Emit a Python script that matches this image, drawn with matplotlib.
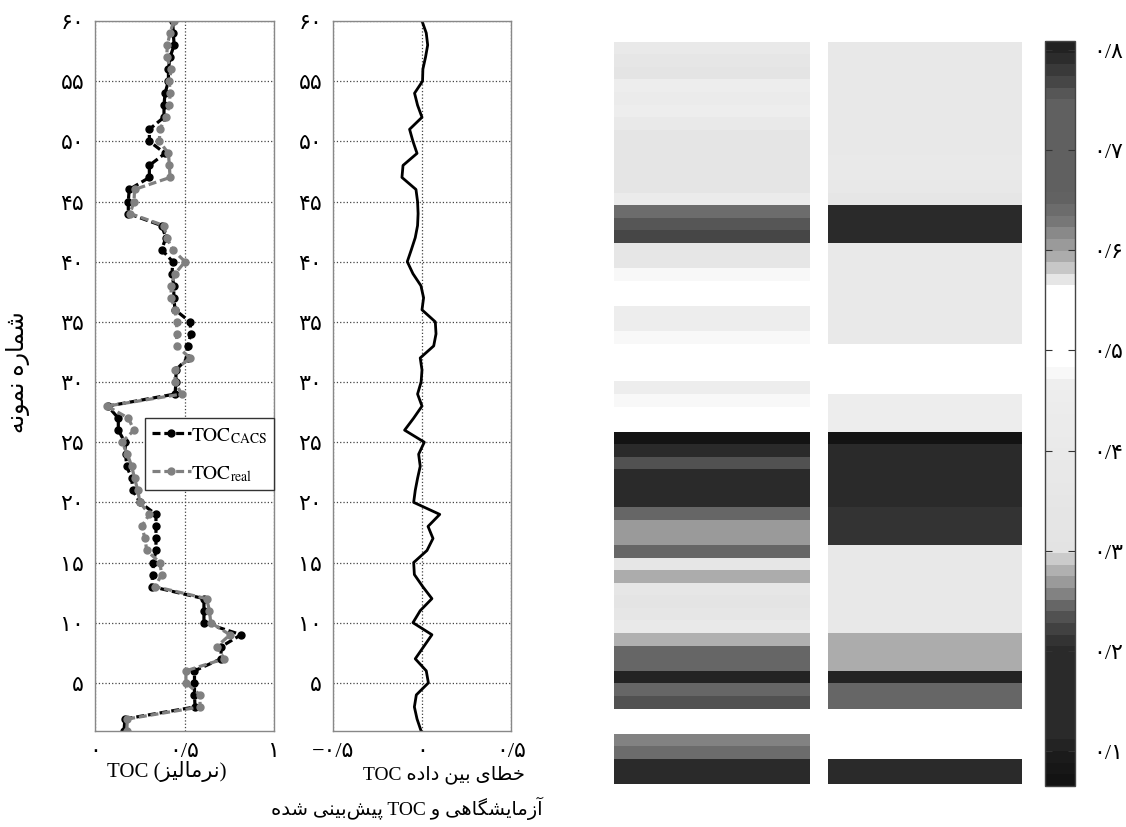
import numpy as np
import matplotlib
matplotlib.use('Agg')
from matplotlib import pyplot as plt
from matplotlib.colors import ListedColormap, Normalize

plt.rcParams['font.family'] = ['Liberation Serif', 'DejaVu Sans']
plt.rcParams['mathtext.fontset'] = 'stix'

# Sample numbers and TOC values (normalized)
samples = list(range(1, 61))
toc_cacs = [0.161, 0.166, 0.559, 0.556, 0.556, 0.556, 0.705, 0.705, 0.817, 0.609,
            0.609, 0.609, 0.316, 0.322, 0.326, 0.34, 0.34, 0.34, 0.34, 0.25,
            0.21, 0.204, 0.176, 0.17, 0.166, 0.129, 0.129, 0.07, 0.447, 0.452,
            0.452, 0.518, 0.518, 0.536, 0.531, 0.447, 0.44, 0.44, 0.43, 0.434,
            0.372, 0.396, 0.372, 0.185, 0.185, 0.19, 0.303, 0.303, 0.391, 0.303,
            0.303, 0.385, 0.385, 0.391, 0.41, 0.41, 0.419, 0.442, 0.437, 0.434]
toc_real = [0.176, 0.18, 0.587, 0.587, 0.508, 0.508, 0.723, 0.68, 0.755, 0.647,
            0.64, 0.624, 0.335, 0.372, 0.362, 0.288, 0.279, 0.26, 0.303, 0.25,
            0.238, 0.22, 0.204, 0.18, 0.15, 0.217, 0.185, 0.066, 0.484, 0.447,
            0.447, 0.531, 0.456, 0.456, 0.456, 0.447, 0.425, 0.425, 0.447, 0.503,
            0.434, 0.40, 0.385, 0.195, 0.217, 0.22, 0.419, 0.415, 0.41, 0.359,
            0.362, 0.396, 0.415, 0.419, 0.415, 0.425, 0.40, 0.404, 0.419, 0.44]
toc_error = [-0.005, -0.028, -0.043, -0.032, 0.036, 0.024, -0.038, 0.009, 0.056, -0.051,
             -0.01, 0.056, 0.004, -0.043, -0.047, 0.028, 0.062, 0.034, 0.1, -0.047,
             -0.038, -0.025, -0.01, -0.019, 0.013, -0.098, -0.047, 0.0, -0.025, -0.005,
             0.0, -0.01, 0.066, 0.079, 0.075, 0.0, 0.009, -0.006, -0.051, -0.083,
             -0.06, -0.038, -0.025, -0.022, -0.025, -0.034, -0.113, -0.107, -0.028, -0.051,
             -0.07, 0.0, -0.025, -0.042, 0.003, 0.005, 0.02, 0.032, 0.024, 0.0]

# cell values of the two columns of the map (sample 1 at bottom)
cells_left = [0.15, 0.15, 0.64, 0.255, 0.52, 0.52, 0.23, 0.245, 0.105, 0.245,
              0.245, 0.28, 0.40, 0.35, 0.32, 0.35, 0.595, 0.35, 0.245, 0.268,
              0.268, 0.245, 0.15, 0.15, 0.15, 0.23, 0.15, 0.07, 0.52, 0.52,
              0.48, 0.45, 0.52, 0.52, 0.52, 0.48, 0.45, 0.45, 0.52, 0.52,
              0.475, 0.35, 0.35, 0.77, 0.76, 0.645, 0.42, 0.33, 0.33, 0.33,
              0.33, 0.33, 0.40, 0.45, 0.42, 0.46, 0.32, 0.35, 0.40]
cells_right = [0.15, 0.15, 0.52, 0.52, 0.52, 0.52, 0.245, 0.245, 0.105, 0.595,
               0.595, 0.595, 0.38, 0.38, 0.38, 0.38, 0.38, 0.38, 0.38, 0.21,
               0.21, 0.21, 0.15, 0.15, 0.15, 0.15, 0.15, 0.07, 0.45, 0.45,
               0.45, 0.52, 0.52, 0.52, 0.52, 0.40, 0.40, 0.40, 0.40, 0.40,
               0.40, 0.40, 0.40, 0.20, 0.20, 0.20, 0.35, 0.38, 0.40, 0.40,
               0.38, 0.38, 0.38, 0.38, 0.38, 0.38, 0.38, 0.38, 0.38]

y_ticks = [5, 10, 15, 20, 25, 30, 35, 40, 45, 50, 55, 60]
toc_ticks = [0, 0.5, 1]
err_ticks = [-0.5, 0, 0.5]
cbar_ticks = [0.1, 0.2, 0.3, 0.4, 0.5, 0.6, 0.7, 0.8]


def fa_num(v):
    # Persian digits, "/" as decimal sign
    s = ('%g' % v).replace('-', '\u2212')
    s = s.replace('0.', '0/') if '.' in s else s
    return s.translate(str.maketrans('0123456789', '۰۱۲۳۴۵۶۷۸۹'))


# contextual forms: isolated, final, initial, medial
FORMS = {
    'ا': ('\uFE8D', '\uFE8E', None, None),
    'آ': ('\uFE81', '\uFE82', None, None),
    'ب': ('\uFE8F', '\uFE90', '\uFE91', '\uFE92'),
    'پ': ('\uFB56', '\uFB57', '\uFB58', '\uFB59'),
    'خ': ('\uFEA5', '\uFEA6', '\uFEA7', '\uFEA8'),
    'د': ('\uFEA9', '\uFEAA', None, None),
    'ر': ('\uFEAD', '\uFEAE', None, None),
    'ز': ('\uFEAF', '\uFEB0', None, None),
    'ش': ('\uFEB5', '\uFEB6', '\uFEB7', '\uFEB8'),
    'ط': ('\uFEC1', '\uFEC2', '\uFEC3', '\uFEC4'),
    'ل': ('\uFEDD', '\uFEDE', '\uFEDF', '\uFEE0'),
    'م': ('\uFEE1', '\uFEE2', '\uFEE3', '\uFEE4'),
    'ن': ('\uFEE5', '\uFEE6', '\uFEE7', '\uFEE8'),
    'ه': ('\uFEE9', '\uFEEA', '\uFEEB', '\uFEEC'),
    'و': ('\uFEED', '\uFEEE', None, None),
    'ی': ('\uFBFC', '\uFBFD', '\uFBFE', '\uFBFF'),
    'گ': ('\uFB92', '\uFB93', '\uFB94', '\uFB95'),
}


def fa(text):
    # shape Persian letters and put them in visual (left-to-right) order
    out = []
    for i, ch in enumerate(text):
        if ch not in FORMS:
            if ch != '\u200c':
                out.append(ch)
            continue
        prev = text[i - 1] if i > 0 else ''
        nxt = text[i + 1] if i + 1 < len(text) else ''
        jp = prev in FORMS and FORMS[prev][2] is not None
        jn = FORMS[ch][2] is not None and nxt in FORMS
        iso, fin, ini, med = FORMS[ch]
        if jp and jn:
            out.append(med)
        elif jp:
            out.append(fin)
        elif jn:
            out.append(ini)
        else:
            out.append(iso)
    return ''.join(reversed(out))


# grey colormap (64 levels) as in the colour bar
vmin, vmax = 0.065, 0.809
anchor_v = [0.065, 0.092, 0.105, 0.115, 0.200, 0.210, 0.221, 0.233, 0.245, 0.256, 0.268,
            0.280, 0.292, 0.302, 0.470, 0.478, 0.488, 0.565, 0.572, 0.583, 0.595, 0.606,
            0.618, 0.629, 0.642, 0.655, 0.745, 0.758, 0.770, 0.781, 0.793, 0.809]
anchor_g = [17, 26, 34, 42, 42, 51, 64, 80, 102, 128, 153,
            176, 204, 227, 238, 248, 255, 255, 224, 197, 170, 153,
            136, 119, 106, 96, 96, 85, 68, 56, 42, 30]
edges = np.linspace(vmin, vmax, 65)
centers = (edges[:-1] + edges[1:]) / 2
g = np.interp(centers, anchor_v, anchor_g) / 255.0
cmap = ListedColormap(np.column_stack([g, g, g]))
norm = Normalize(vmin=vmin, vmax=vmax)

W, H = 1126, 828
fig = plt.figure(figsize=(W / 100, H / 100), dpi=100)

ax1 = fig.add_axes([95.3 / W, 96 / H, 178.4 / W, 710 / H])
ax2 = fig.add_axes([333.3 / W, 96 / H, 177.4 / W, 710 / H])
ax3 = fig.add_axes([614 / W, 43 / H, 408 / W, 742.3 / H])
cax = fig.add_axes([1045 / W, 41 / H, 30 / W, 745 / H])

# Left: TOC curves
ax1.plot(toc_cacs, samples, color='black', lw=2.3, ls=(0, (2.5, 1.2)), marker='.', ms=10,
         label=r'$\mathrm{TOC_{CACS}}$')
ax1.plot(toc_real, samples, color='#808080', lw=2.3, ls=(0, (2.5, 1.2)), marker='.', ms=10,
         label=r'$\mathrm{TOC_{real}}$')
ax1.set_xlim(0, 1)
ax1.set_xticks(toc_ticks)
ax1.set_xticklabels([fa_num(v) for v in toc_ticks])
leg = ax1.legend(loc='lower right', bbox_to_anchor=(1.0, 0.34), fontsize=14, fancybox=False,
                 handlelength=2.0, handletextpad=0.0, borderpad=0.35, labelspacing=0.95,
                 borderaxespad=0, framealpha=1)
leg.get_frame().set_edgecolor('#333333')
leg.get_frame().set_linewidth(1.0)

# Middle: error
ax2.plot(toc_error, samples, color='black', lw=2)
ax2.set_xlim(-0.5, 0.5)
ax2.set_xticks(err_ticks)
ax2.set_xticklabels([fa_num(v) for v in err_ticks])

for ax in (ax1, ax2):
    ax.set_ylim(1, 60)
    ax.set_yticks(y_ticks)
    ax.set_yticklabels([fa_num(v) for v in y_ticks])
    ax.grid(True, ls=':', color='#444444', lw=0.9)
    ax.tick_params(length=0, labelsize=16, pad=8)
    for sp in ax.spines.values():
        sp.set_color('#888888')
        sp.set_linewidth(1.0)

# Right: cell map
mesh = ax3.pcolormesh([0, 1], samples, np.array(cells_left)[:, None], cmap=cmap, norm=norm)
ax3.pcolormesh([1.092, 2.082], samples, np.array(cells_right)[:, None], cmap=cmap, norm=norm)
ax3.set_xlim(0, 2.082)
ax3.set_ylim(1, 60)
ax3.set_axis_off()

cb = fig.colorbar(mesh, cax=cax, ticks=cbar_ticks)
cb.ax.set_yticklabels([fa_num(v) for v in cbar_ticks])
cb.outline.set_edgecolor('#444444')
cb.outline.set_linewidth(1.0)
cax.tick_params(axis='y', direction='in', length=5, left=True, right=True, color='#333333',
                labelsize=16, pad=13)

# Labels
fig.text(18 / W, 1 - 372 / H, fa('شماره نمونه'), rotation=90, ha='center', va='center', fontsize=17)
fig.text(167 / W, 1 - 772 / H, 'TOC (' + fa('نرمالیز') + ')', ha='center', va='center', fontsize=15)
fig.text(444 / W, 1 - 775 / H, 'TOC ' + fa('خطای بین داده'), ha='center', va='center', fontsize=14)
fig.text(407 / W, 1 - 808 / H, fa('پیش\u200cبینی شده') + ' TOC ' + fa('آزمایشگاهی و'),
         ha='center', va='center', fontsize=14)

plt.savefig('out.png', dpi=100)
